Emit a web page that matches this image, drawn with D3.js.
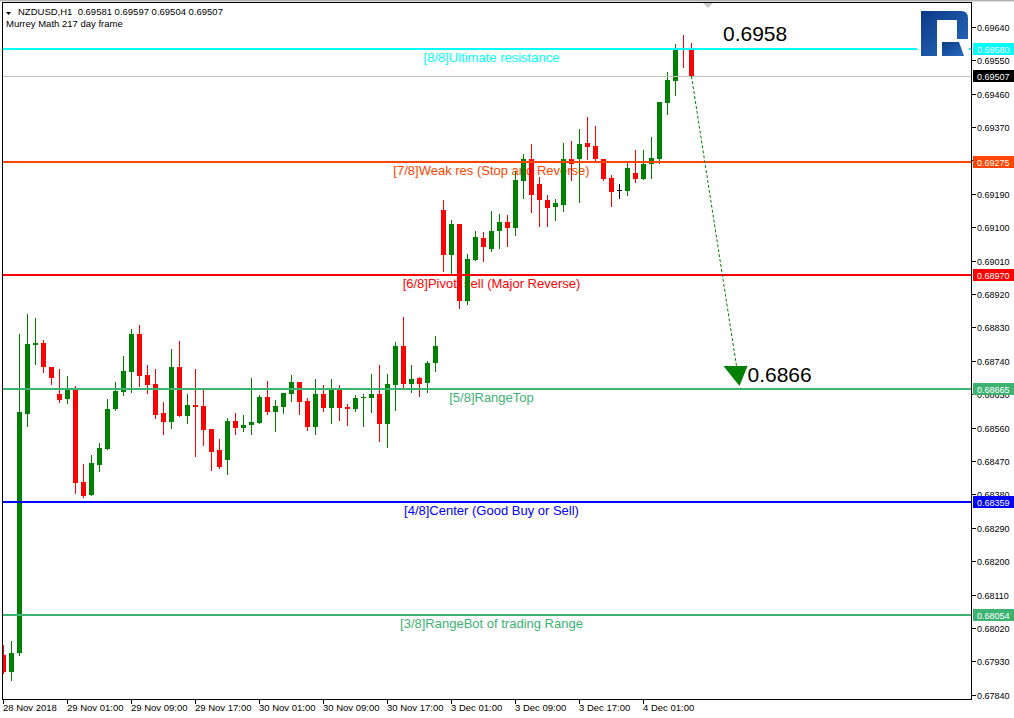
<!DOCTYPE html>
<html><head><meta charset="utf-8">
<script src="https://cdn.jsdelivr.net/npm/d3@7"></script>
<style>html,body{margin:0;padding:0;background:#fff;}svg{display:block;}</style>
</head><body>
<script>
// ---------- DATA ----------
const symbolTitle = "NZDUSD,H1  0.69581 0.69597 0.69504 0.69507";
const subTitle = "Murrey Math 217 day frame";

const openPrices = [0.67948,0.67902,0.67953,0.68596,0.68783,0.68788,0.68723,0.68650,0.68636,0.68665,
0.68412,0.68377,0.68458,0.68501,0.68609,0.68655,0.68709,0.68812,0.68701,0.68677,
0.68599,0.68574,0.68723,0.68591,0.68620,0.68618,0.68555,0.68499,0.68472,0.68577,
0.68558,0.68566,0.68572,0.68642,0.68601,0.68615,0.68650,0.68682,0.68631,0.68561,
0.68650,0.68612,0.68666,0.68615,0.68609,0.68639,0.68639,0.68650,0.68569,0.68674,
0.68780,0.68677,0.68693,0.68680,0.68734,0.69147,0.69025,0.69109,0.68901,0.69012,
0.69071,0.69041,0.69090,0.69114,0.69098,0.69225,0.69284,0.69217,0.69174,0.69155,
0.69160,0.69284,0.69284,0.69328,0.69320,0.69284,0.69233,0.69201,0.69198,0.69247,
0.69230,0.69271,0.69284,0.69436,0.69495,0.69584,0.69581];
const highPrices = [0.67975,0.67984,0.68812,0.68866,0.68855,0.68796,0.68723,0.68717,0.68698,0.68671,
0.68461,0.68486,0.68518,0.68636,0.68682,0.68753,0.68825,0.68836,0.68728,0.68717,
0.68628,0.68771,0.68793,0.68650,0.68717,0.68663,0.68555,0.68528,0.68585,0.68599,
0.68593,0.68693,0.68647,0.68685,0.68634,0.68653,0.68701,0.68682,0.68639,0.68690,
0.68674,0.68690,0.68674,0.68623,0.68647,0.68650,0.68704,0.68728,0.68704,0.68790,
0.68858,0.68728,0.68696,0.68739,0.68807,0.69174,0.69120,0.69109,0.69028,0.69090,
0.69087,0.69144,0.69136,0.69133,0.69252,0.69298,0.69325,0.69236,0.69187,0.69177,
0.69328,0.69333,0.69365,0.69398,0.69374,0.69284,0.69241,0.69217,0.69276,0.69309,
0.69309,0.69344,0.69438,0.69519,0.69595,0.69617,0.69597];
const lowPrices = [0.67899,0.67879,0.67948,0.68564,0.68731,0.68710,0.68677,0.68628,0.68626,0.68383,
0.68372,0.68377,0.68442,0.68501,0.68607,0.68647,0.68655,0.68671,0.68653,0.68585,
0.68542,0.68558,0.68591,0.68572,0.68483,0.68512,0.68447,0.68450,0.68434,0.68542,
0.68550,0.68542,0.68572,0.68596,0.68550,0.68599,0.68631,0.68596,0.68553,0.68542,
0.68604,0.68572,0.68580,0.68566,0.68604,0.68564,0.68601,0.68523,0.68507,0.68607,
0.68669,0.68655,0.68645,0.68655,0.68712,0.68982,0.68974,0.68882,0.68893,0.69012,
0.69009,0.69036,0.69044,0.69050,0.69079,0.69179,0.69141,0.69103,0.69103,0.69120,
0.69144,0.69228,0.69168,0.69284,0.69279,0.69228,0.69157,0.69179,0.69187,0.69222,
0.69230,0.69233,0.69274,0.69406,0.69457,0.69533,0.69504];
const closePrices = [0.67902,0.67953,0.68601,0.68785,0.68788,0.68723,0.68693,0.68634,0.68665,0.68410,
0.68375,0.68464,0.68504,0.68609,0.68658,0.68712,0.68812,0.68698,0.68674,0.68593,
0.68574,0.68723,0.68591,0.68620,0.68615,0.68553,0.68493,0.68453,0.68577,0.68558,
0.68566,0.68574,0.68642,0.68601,0.68618,0.68653,0.68682,0.68628,0.68561,0.68650,
0.68612,0.68666,0.68612,0.68609,0.68639,0.68642,0.68650,0.68569,0.68677,0.68780,
0.68677,0.68690,0.68677,0.68734,0.68780,0.69025,0.69109,0.68901,0.69014,0.69074,
0.69047,0.69090,0.69114,0.69098,0.69228,0.69284,0.69187,0.69173,0.69152,0.69166,
0.69284,0.69271,0.69325,0.69317,0.69284,0.69230,0.69195,0.69201,0.69260,0.69230,
0.69271,0.69287,0.69438,0.69498,0.69583,0.69580,0.69507];

const timeTickIndex = [0,8,16,24,32,40,48,56,64,72,80];
const timeLabels = ["28 Nov 2018","29 Nov 01:00","29 Nov 09:00","29 Nov 17:00","30 Nov 01:00","30 Nov 09:00","30 Nov 17:00","3 Dec 01:00","3 Dec 09:00","3 Dec 17:00","4 Dec 01:00"];
const priceTicks = [0.67840,0.67930,0.68020,0.68110,0.68200,0.68290,0.68380,0.68470,0.68560,0.68650,0.68740,0.68830,0.68920,0.69010,0.69100,0.69190,0.69280,0.69370,0.69460,0.69550,0.69640];

const levelValues = [0.69580,0.69275,0.68970,0.68665,0.68359,0.68054];
const levelNames = ["[8/8]Ultimate resistance","[7/8]Weak res (Stop and Reverse)","[6/8]Pivot, sell (Major Reverse)","[5/8]RangeTop","[4/8]Center (Good Buy or Sell)","[3/8]RangeBot of trading Range"];
const levelColors = ["#00FFFF","#FF4500","#FF0000","#3CB371","#0000FF","#3CB371"];
const levelLabelIndex = 61;

const bidPrice = 0.69507;
const forecastFrom = {index: 86, value: 0.69507};
const forecastTo = {index: 92, value: 0.68672};
const forecastStartLabel = "0.6958";
const forecastEndLabel = "0.6866";

// ---------- CHART ----------
const W = 1014, H = 718;
const PL = 2, PT = 2, PR = 971, PB = 699;
const x = d3.scaleLinear().domain([0, 86]).range([3.5, 691.5]);
const y = d3.scaleLinear().domain([0.678284, 0.697072]).range([699, 2]);
const ry = v => Math.round(y(v));

const svg = d3.select("body").append("svg")
  .attr("width", W).attr("height", H)
  .style("font-family", "'Liberation Sans', Arial, sans-serif");

svg.append("rect").attr("width", W).attr("height", H).attr("fill", "#fff");
svg.append("rect").attr("x", 0).attr("y", 0).attr("width", W).attr("height", 1.5).attr("fill", "#b4b4b4");

const defs = svg.append("defs");
defs.append("clipPath").attr("id", "pc").append("rect")
  .attr("x", PL + 1).attr("y", PT + 1).attr("width", PR - PL - 1).attr("height", PB - PT - 1);
const grad = defs.append("linearGradient").attr("id", "lg").attr("x1", "0").attr("y1", "0").attr("x2", "1").attr("y2", "1");
grad.append("stop").attr("offset", "0").attr("stop-color", "#0b3a86");
grad.append("stop").attr("offset", "1").attr("stop-color", "#2a6bc0");

const plot = svg.append("g").attr("clip-path", "url(#pc)");

// level labels (background)
plot.append("g").selectAll("text").data(levelValues).join("text")
  .attr("x", x(levelLabelIndex))
  .attr("y", d => ry(d) + 12.5)
  .attr("text-anchor", "middle")
  .attr("font-size", 13)
  .attr("fill", (d, i) => levelColors[i])
  .text((d, i) => levelNames[i]);

// candles
const idx = d3.range(openPrices.length);
const col = i => closePrices[i] > openPrices[i] ? "#008000" : (closePrices[i] < openPrices[i] ? "#FF0000" : "#000000");
const cg = plot.append("g").attr("shape-rendering", "crispEdges");
cg.selectAll("line").data(idx).join("line")
  .attr("x1", i => x(i)).attr("x2", i => x(i))
  .attr("y1", i => ry(highPrices[i])).attr("y2", i => ry(lowPrices[i]) + 1)
  .attr("stroke", col).attr("stroke-width", 1);
cg.selectAll("rect").data(idx).join("rect")
  .attr("x", i => x(i) - 2.5).attr("width", 5)
  .attr("y", i => ry(Math.max(openPrices[i], closePrices[i])))
  .attr("height", i => Math.max(1, ry(Math.min(openPrices[i], closePrices[i])) - ry(Math.max(openPrices[i], closePrices[i]))))
  .attr("fill", col);

// bid line
plot.append("line").attr("x1", PL).attr("x2", PR)
  .attr("y1", ry(bidPrice) + 0.5).attr("y2", ry(bidPrice) + 0.5)
  .attr("stroke", "#c0c0c0").attr("stroke-width", 1);

// level lines
plot.append("g").selectAll("line").data(levelValues).join("line")
  .attr("x1", PL).attr("x2", PR)
  .attr("y1", d => ry(d)).attr("y2", d => ry(d))
  .attr("stroke", (d, i) => levelColors[i]).attr("stroke-width", 2)
  .attr("shape-rendering", "crispEdges");

// forecast arrow
const tipX = x(forecastTo.index), tipY = y(forecastTo.value);
plot.append("line")
  .attr("x1", x(forecastFrom.index)).attr("y1", y(forecastFrom.value))
  .attr("x2", tipX - 3).attr("y2", tipY - 20)
  .attr("stroke", "#008000").attr("stroke-width", 1).attr("stroke-dasharray", "3,2");
plot.append("path")
  .attr("d", `M${tipX - 16},${tipY - 20}L${tipX + 8},${tipY - 20}L${tipX},${tipY}Z`)
  .attr("fill", "#008000");
plot.append("text").attr("x", tipX + 8).attr("y", tipY - 4)
  .attr("font-size", 21).attr("fill", "#000").text(forecastEndLabel);
plot.append("text").attr("x", tipX - 16.5).attr("y", y(levelValues[0]) - 8)
  .attr("font-size", 21).attr("fill", "#000").text(forecastStartLabel);

// logo
const logo = svg.append("g");
logo.append("rect").attr("x", 917).attr("y", 5).attr("width", 52).attr("height", 55).attr("fill", "#fff");
logo.append("path")
  .attr("d", "M921,11 H961 Q968,11 968,18 V39 H957 V20 H937 V56 H921 Z")
  .attr("fill", "url(#lg)");
logo.append("path")
  .attr("d", "M942,42 H959 L964,56 H942 Z")
  .attr("fill", "url(#lg)");

// shift marker
svg.append("path").attr("d", "M703,3 L713,3 L708,8 Z").attr("fill", "#c8c8c8");

// frame
svg.append("rect").attr("x", PL + 0.5).attr("y", PT + 0.5)
  .attr("width", PR - PL).attr("height", PB - PT)
  .attr("fill", "none").attr("stroke", "#000").attr("stroke-width", 1);

// y axis
const yAxis = svg.append("g").attr("transform", `translate(${PR},0)`)
  .call(d3.axisRight(y).tickValues(priceTicks).tickSize(4).tickPadding(2).tickFormat(d3.format(".5f")));
yAxis.select(".domain").remove();
yAxis.selectAll(".tick").attr("transform", d => `translate(0.5,${ry(d) + 0.5})`);
yAxis.selectAll(".tick line").attr("stroke", "#000").attr("shape-rendering", "crispEdges");
yAxis.selectAll(".tick text").attr("font-size", 9).attr("font-family", "'Liberation Sans', Arial, sans-serif").attr("fill", "#000").attr("x", 5.5).attr("dy", "0.4em");

// x axis
const xAxis = svg.append("g").attr("transform", `translate(0,${PB})`)
  .call(d3.axisBottom(x).tickValues(timeTickIndex).tickSize(4).tickFormat((d, i) => timeLabels[i]));
xAxis.select(".domain").remove();
xAxis.selectAll(".tick").attr("transform", d => `translate(${x(d)},0.5)`);
xAxis.selectAll(".tick line").attr("stroke", "#000").attr("shape-rendering", "crispEdges");
xAxis.selectAll(".tick text").attr("font-size", 9.5).attr("font-family", "'Liberation Sans', Arial, sans-serif").attr("fill", "#000")
  .attr("text-anchor", "start").attr("x", -0.5).attr("y", 11.5).attr("dy", null);

// price boxes on axis
const boxes = [
  ...levelValues.map((v, i) => ({v, c: levelColors[i]})),
  {v: bidPrice, c: "#000000"}
];
const bg = svg.append("g");
bg.selectAll("rect").data(boxes).join("rect")
  .attr("x", PR + 2).attr("width", W - PR - 2)
  .attr("y", d => ry(d.v) - 6).attr("height", 12)
  .attr("fill", d => d.c);
bg.selectAll("text").data(boxes).join("text")
  .attr("x", PR + 6).attr("y", d => ry(d.v) + 3.5)
  .attr("font-size", 9).attr("fill", "#fff")
  .text(d => d3.format(".5f")(d.v));

// header
svg.append("path").attr("d", "M6,12 L11,12 L8.5,15 Z").attr("fill", "#000");
svg.append("text").attr("x", 18).attr("y", 15).attr("font-size", 9.5).attr("fill", "#000").text(symbolTitle).style("white-space", "pre");
svg.append("text").attr("x", 6).attr("y", 27).attr("font-size", 9.5).attr("fill", "#000").text(subTitle);
</script>
</body></html>
